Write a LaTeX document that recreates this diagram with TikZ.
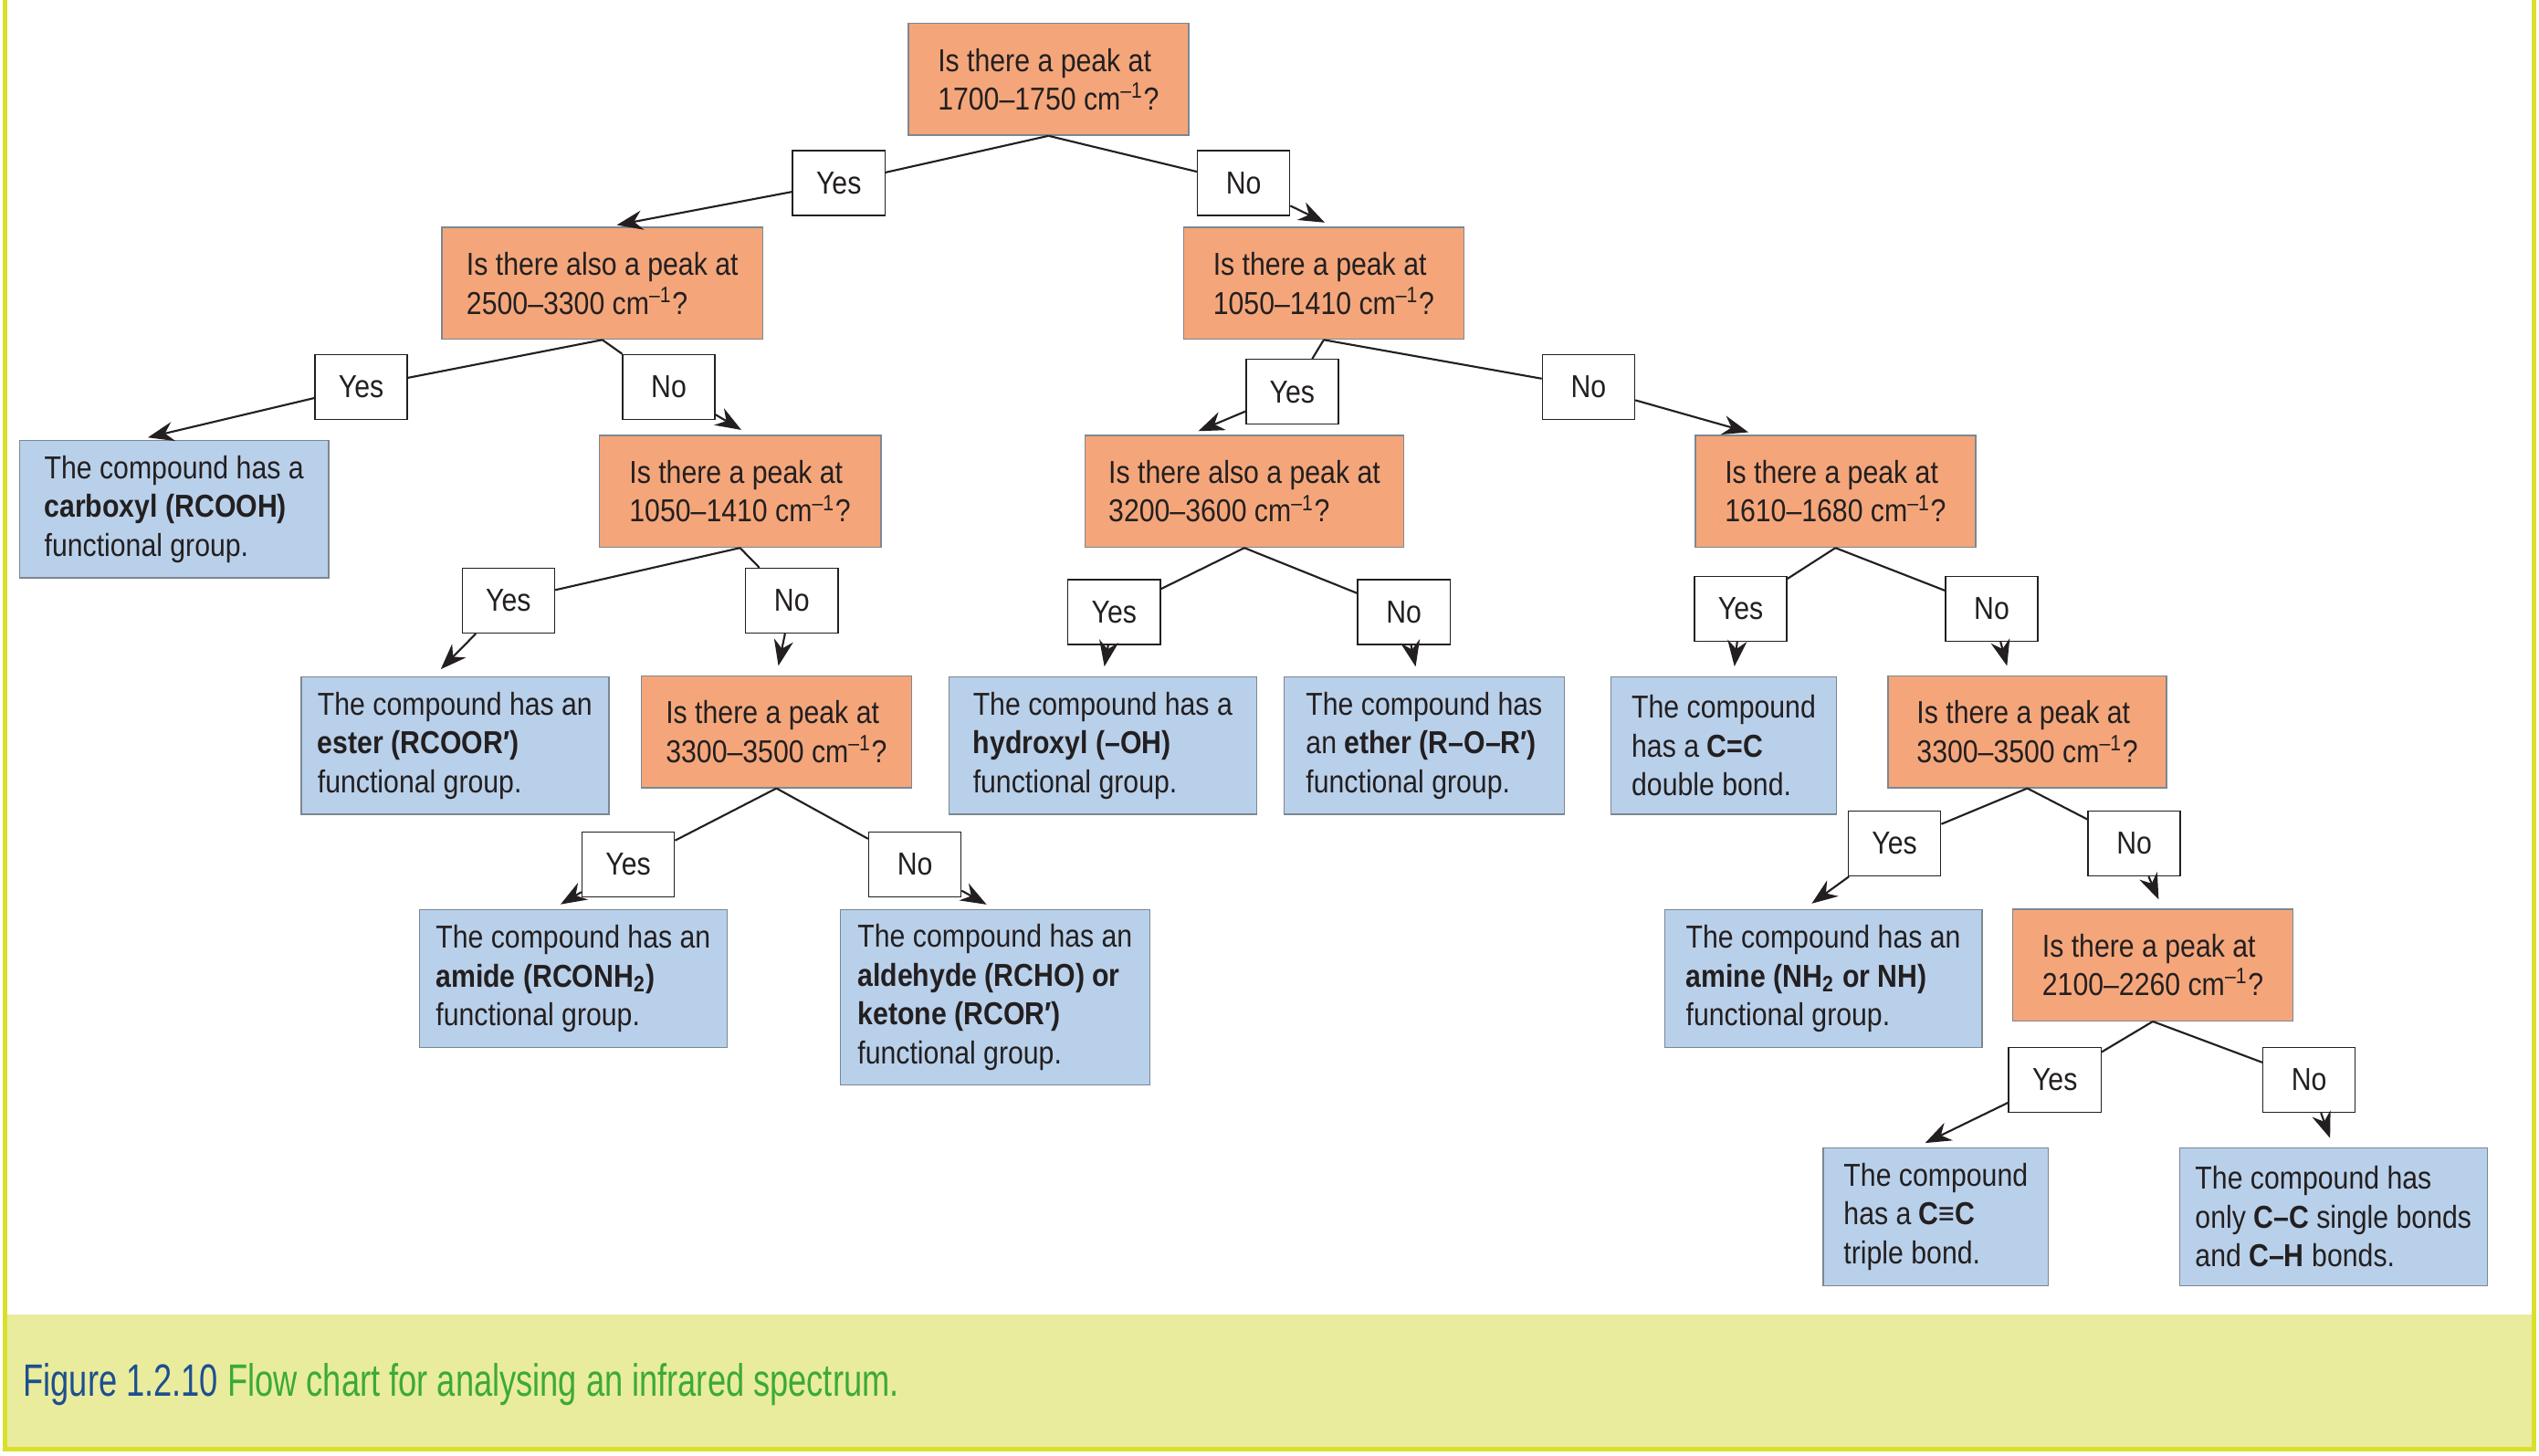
\documentclass[tikz,border=0pt]{standalone}
\usepackage{fontspec}
\setmainfont{Liberation Sans}[FakeStretch=0.87]
\newfontfamily\figurefont{Liberation Sans}[FakeStretch=0.73]
\usepackage{tikz}
\usetikzlibrary{arrows.meta, positioning}
\usepackage{xcolor}
\definecolor{Peach}{HTML}{F4A67A}
\definecolor{LiteBlue}{HTML}{B9D0EA}
\definecolor{SlateGray}{HTML}{7C8792}
\definecolor{Lime}{HTML}{D9E02C}
\definecolor{LiteLime}{HTML}{EAEC9D}
\definecolor{FigureBlue}{HTML}{1D4F8F}
\definecolor{FigureGreen}{HTML}{3BAA36}
\definecolor{RichBlack}{HTML}{231F20}
\newcommand{\wavenum}{cm\textsuperscript{–1}}
\tikzset{%
  question_block/.style={%
    rectangle,%
    draw=SlateGray,%
    fill=Peach,%
    minimum width=#1,%
    minimum height=34.5pt,%
    font={\fontsize{9.8}{12}\selectfont},%
    text=RichBlack,%
    align=left%
  },
  answer_block/.style={%
    rectangle,%
    draw=SlateGray,%
    fill=LiteBlue,%
    minimum width=#1,%
    minimum height=42.5pt,%
    font={\fontsize{9.8}{12}\selectfont},%
    text=RichBlack,%
    align=left%
  },
  choice/.style={%
    rectangle,%
    draw=RichBlack,%
    fill=white,%
    minimum width=28.5pt,%
    minimum height=20pt,%
    inner sep=0pt,%
    font={\fontsize{9.8}{12}\selectfont},%
    text=RichBlack%
  },
  smooth_path/.style={%
    color=RichBlack,%
    line width=0.6pt,%
    line join=round,%
    shorten >=3pt%
  },
  arrow/.style={-{Stealth[length=8pt, width=6pt]}},
  caption_band/.style={%
    fill=LiteLime,%
    draw=none%
  },
  frame_line/.style={%
    draw=Lime,%
    line width=1.3pt%
  },
  figure_caption/.style={%
    font={\figurefont\fontsize{14}{16}\selectfont},%
    text=FigureGreen,%
    anchor=west,%
    inner sep=0pt%
  },
}
\begin{document}
\begin{tikzpicture}[x=0.5pt, y=-0.5pt]

    \useasboundingbox (0,0) rectangle (1568,899);

    \fill [caption_band] (3,812) rectangle (1565,895);
    \draw [frame_line] (3,0) -- (3,895) -- (1565,895) -- (1565,0);
    \node [figure_caption] (caption) at (14,855)
      {\textcolor{FigureBlue}{Figure 1.2.10} Flow chart for analysing an infrared spectrum.};

    \node [question_block=86.5pt] (Peak1700) at (647.5,49) {Is there a peak at\\1700–1750 \wavenum?};
    \node [question_block=99pt] (Peak2500) at (372,175) {Is there also a peak at\\2500–3300 \wavenum?};
    \node [question_block=86.5pt] (Peak1050b) at (817.5,175) {Is there a peak at\\1050–1410 \wavenum?};
    \node [question_block=87pt] (Peak1050a) at (457,303.5) {Is there a peak at\\1050–1410 \wavenum?};
    \node [question_block=83.5pt] (Peak3300a) at (479.5,452) {Is there a peak at\\3300–3500 \wavenum?};
    \node [question_block=98.5pt] (Peak3200) at (768.5,303.5) {Is there also a peak at\\3200–3600 \wavenum?};
    \node [question_block=86.5pt] (Peak1610) at (1133.5,303.5) {Is there a peak at\\1610–1680 \wavenum?};
    \node [question_block=86pt] (Peak3300b) at (1252,452) {Is there a peak at\\3300–3500 \wavenum?};
    \node [question_block=86.5pt] (Peak2100) at (1329.5,596) {Is there a peak at\\2100–2260 \wavenum?};

    \node [answer_block=95.5pt] (Carboxyl) at (107.5,314.5)
      {The compound has a\\\textbf{carboxyl (RCOOH)}\\functional group.};
    \node [answer_block=95pt] (Ester) at (281,460.5)
      {The compound has an\\\textbf{ester (RCOOR′)}\\functional group.};
    \node [answer_block=95pt] (Amide) at (354,604.5)
      {The compound has an\\\textbf{amide (RCONH\textsubscript{2})}\\functional group.};
    \node [answer_block=95.5pt, minimum height=54pt] (Carbonyl) at (614.5,616)
      {The compound has an\\\textbf{aldehyde (RCHO) or}\\\textbf{ketone (RCOR′)}\\functional group.};
    \node [answer_block=95pt] (Hydroxyl) at (681,460.5)
      {The compound has a\\\textbf{hydroxyl (–OH)}\\functional group.};
    \node [answer_block=86.5pt] (Ether) at (879.5,460.5)
      {The compound has\\an \textbf{ether (R–O–R′)}\\functional group.};
    \node [answer_block=69.5pt] (Alkene) at (1064.5,460.5)
      {The compound\\has a \textbf{C=C}\\double bond.};
    \node [answer_block=98pt] (Amine) at (1126,604.5)
      {The compound has an\\\textbf{amine (NH\textsubscript{2} or NH)}\\functional group.};
    \node [answer_block=69.5pt] (Alkyne) at (1195.5,751.5)
      {The compound\\has a \textbf{C≡C}\\triple bond.};
    \node [answer_block=95pt] (Alkane) at (1441,751.5)
      {The compound has\\only \textbf{C–C} single bonds\\and \textbf{C–H} bonds.};

    \node [choice] (Yes1700) at (518,113) {Yes};
    \node [choice] (No1700) at (768,113) {No};
    \node [choice] (Yes2500) at (223,239) {Yes};
    \node [choice] (No2500) at (413,239) {No};
    \node [choice] (Yes1050a) at (314,371) {Yes};
    \node [choice] (No1050a) at (489,371) {No};
    \node [choice] (Yes3300a) at (388,534) {Yes};
    \node [choice] (No3300a) at (565,534) {No};
    \node [choice] (Yes1050b) at (798,242) {Yes};
    \node [choice] (No1050b) at (981,239) {No};
    \node [choice] (Yes3200) at (688,378) {Yes};
    \node [choice] (No3200) at (867,378) {No};
    \node [choice] (Yes1610) at (1075,376) {Yes};
    \node [choice] (No1610) at (1230,376) {No};
    \node [choice] (Yes3300b) at (1170,521) {Yes};
    \node [choice] (No3300b) at (1318,521) {No};
    \node [choice] (Yes2100) at (1269,667) {Yes};
    \node [choice] (No2100) at (1426,667) {No};

    \draw [arrow, smooth_path]
      (Peak1700.south)
      --
      (Yes1700)
      --
      ([xshift=1.5pt]Peak2500.north);
    \draw [arrow, smooth_path]
      (Peak1700.south)
      --
      (No1700)
      --
      ([xshift=3pt]Peak1050b.north);
    \draw [arrow, smooth_path]
      (Peak2500.south)
      --
      (Yes2500)
      --
      ([xshift=-11pt]Carboxyl.north);
    \draw [arrow, smooth_path]
      (Peak2500.south)
      --
      (No2500)
      --
      ([xshift=3pt]Peak1050a.north);
    \draw [arrow, smooth_path]
      (Peak1050a.south)
      --
      (Yes1050a)
      --
      ([xshift=-6.5pt]Ester.north);
    \draw [arrow, smooth_path]
      (Peak1050a.south)
      --
      (No1050a)
      --
      (Peak3300a.north);
    \draw [arrow, smooth_path]
      (Peak3300a.south)
      --
      (Yes3300a)
      --
      ([xshift=-6.5pt]Amide.north);
    \draw [arrow, smooth_path]
      (Peak3300a.south)
      --
      (No3300a)
      --
      (Carbonyl.north);
    \draw [arrow, smooth_path]
      (Peak1050b.south)
      --
      (Yes1050b)
      --
      ([xshift=-17pt]Peak3200.north);
    \draw [arrow, smooth_path]
      (Peak1050b.south)
      --
      (No1050b)
      --
      ([xshift=-24pt]Peak1610.north);
    \draw [arrow, smooth_path]
      (Peak3200.south)
      --
      (Yes3200)
      --
      (Hydroxyl.north);
    \draw [arrow, smooth_path]
      (Peak3200.south)
      --
      (No3200)
      --
      ([xshift=-2pt]Ether.north);
    \draw [arrow, smooth_path]
      (Peak1610.south)
      --
      (Yes1610)
      --
      ([xshift=3pt]Alkene.north);
    \draw [arrow, smooth_path]
      (Peak1610.south)
      --
      (No1610)
      --
      ([xshift=-5.5pt]Peak3300b.north);
    \draw [arrow, smooth_path]
      (Peak3300b.south)
      --
      (Yes3300b)
      --
      ([xshift=-6pt]Amine.north);
    \draw [arrow, smooth_path]
      (Peak3300b.south)
      --
      (No3300b)
      --
      ([xshift=3pt]Peak2100.north);
    \draw [arrow, smooth_path]
      (Peak2100.south)
      --
      (Yes2100)
      --
      ([xshift=-6pt]Alkyne.north);
    \draw [arrow, smooth_path]
      (Peak2100.south)
      --
      (No2100)
      --
      (Alkane.north);
  \end{tikzpicture}
\end{document}
